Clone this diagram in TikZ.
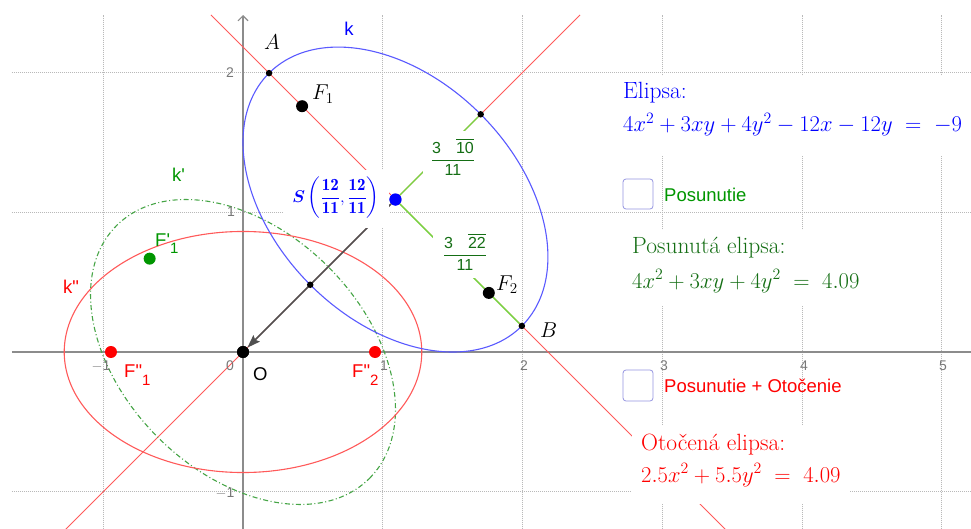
\RequirePackage{fix-cm}
\documentclass[tikz,border=0pt]{standalone}
\usepackage{amsmath}
\usepackage{fontspec}
\setsansfont{Liberation Sans}
\usetikzlibrary{arrows.meta}
\definecolor{gridc}{RGB}{185,185,185}
\definecolor{axisc}{RGB}{140,140,140}
\definecolor{ellc}{RGB}{90,90,255}
\definecolor{txtblue}{RGB}{0,0,255}
\definecolor{redl}{RGB}{255,90,90}
\definecolor{txtred}{RGB}{255,0,0}
\definecolor{lgreen}{RGB}{115,215,65}
\definecolor{dgreen}{RGB}{70,165,70}
\definecolor{txtgreen}{RGB}{0,150,0}
\definecolor{txtdgreen}{RGB}{20,110,20}
\definecolor{vecc}{RGB}{80,80,80}
\definecolor{boxc}{RGB}{150,150,225}
\definecolor{tickc}{RGB}{120,120,120}
\begin{document}
\begin{tikzpicture}[x=1pt,y=-1pt,
  gridline/.style={gridc, line width=0.8pt, dash pattern=on 1pt off 1pt},
  axisline/.style={axisc, line width=1.1pt},
  redline/.style={redl, line width=0.9pt},
  ellipseline/.style={line width=1.1pt},
  semiaxis/.style={lgreen, line width=1.3pt},
  smallpt/.style={circle, fill=black, inner sep=0pt, minimum size=6.5pt},
  bigpt/.style={circle, inner sep=0pt, minimum size=12pt},
  ptlab/.style={inner sep=0pt, font=\fontsize{21.5}{26}\selectfont},
  paneltext/.style={inner sep=0pt, font=\fontsize{23.5}{28}\selectfont},
  paneleq/.style={inner sep=0pt, font=\fontsize{22.6}{28}\selectfont},
  sanslab/.style={inner sep=0pt, font=\sffamily\fontsize{18.5}{22}\selectfont},
  fraclab/.style={inner sep=0pt, text=txtdgreen, font=\sffamily\fontsize{16}{19}\selectfont},
  ticklab/.style={inner sep=0pt, text=tickc, font=\sffamily\fontsize{14}{16}\selectfont},
  checkbox/.style={draw=boxc, line width=0.8pt, rounded corners=3pt, fill=white}]
\useasboundingbox (0,0) rectangle (971,529);
\fill[white] (0,0) rectangle (971,529);
\begin{scope}[shift={(243,352)},x=139.75pt,y=139.75pt]
  % grid
  \foreach \i in {-1,1,2,3,4,5} \draw[gridline] (\i,-1.27) -- (\i,2.4114);
  \foreach \j in {-1,1,2} \draw[gridline] (-1.653,\j) -- (5.21,\j);
  % axes
  \draw[axisline] (-1.653,0) -- (5.21,0);
  \draw[axisline, -{Straight Barb[length=5pt,width=10pt]}] (0,-1.27) -- (0,2.4114);
  % key points
  \coordinate (O) at (0,0);
  \coordinate (S) at (1.090909,1.090909);
  \coordinate (A) at (0.186375,1.995443);
  \coordinate (B) at (1.995443,0.186375);
  \coordinate (V1) at (1.700745,1.700745);
  \coordinate (V2) at (0.481073,0.481073);
  \coordinate (F1) at (0.422866,1.758952);
  \coordinate (F2) at (1.758952,0.422866);
  \coordinate (Fp1) at (-0.668043,0.668043);
  \coordinate (Fpp1) at (-0.944755,0);
  \coordinate (Fpp2) at (0.944755,0);
  \coordinate (La) at (-1.27,-1.27);
  \coordinate (Lb) at (2.4114,2.4114);
  \coordinate (Ma) at (-0.2296,2.4114);
  \coordinate (Mb) at (3.4533,-1.2715);
  % red axis lines
  \draw[redline] (La) -- (Lb);
  \draw[redline] (Ma) -- (Mb);
  % ellipses
  \draw[ellipseline, dgreen, dash pattern=on 5pt off 2.5pt on 1pt off 2.5pt, rotate=-45]
    (O) ellipse [x radius=1.279204, y radius=0.862439];
  \draw[ellipseline, redl] (O) ellipse [x radius=1.279204, y radius=0.862439];
  \draw[ellipseline, ellc, rotate around={-45:(S)}]
    (S) ellipse [x radius=1.279204, y radius=0.862439];
  % point nodes
  \node[bigpt, fill=txtblue] (Sn) at (S) {};
  \node[bigpt, fill=black] (On) at (O) {};
  \node[smallpt] (An) at (A) {};
  \node[smallpt] (Bn) at (B) {};
  \node[smallpt] (V1n) at (V1) {};
  % semi-axes
  \draw[semiaxis] (Sn) -- (V1n);
  \draw[semiaxis] (Sn) -- (Bn);
  % translation vector
  \draw[vecc, line width=1.6pt, -{Stealth[length=13pt,width=9pt,inset=2pt]}] (Sn) -- (On);
  \node[smallpt] (V2n) at (V2) {};
  \node[bigpt, fill=black] (F1n) at (F1) {};
  \node[bigpt, fill=black] (F2n) at (F2) {};
  \node[bigpt, fill=txtgreen] (Fp1n) at (Fp1) {};
  \node[bigpt, fill=txtred] (Fpp1n) at (Fpp1) {};
  \node[bigpt, fill=txtred] (Fpp2n) at (Fpp2) {};
  \node[bigpt, fill=black] (On2) at (O) {};
  \node[bigpt, fill=txtblue] (Sn2) at (S) {};
\end{scope}
% tick labels
\node[ticklab, anchor=base] (tx-1) at (101,370) {$-$1};
\node[ticklab, anchor=base] (tx0) at (230,370) {0};
\node[ticklab, anchor=base] (tx1) at (384,370) {1};
\node[ticklab, anchor=base] (tx2) at (524,370) {2};
\node[ticklab, anchor=base] (tx3) at (664,370) {3};
\node[ticklab, anchor=base] (tx4) at (804,370) {4};
\node[ticklab, anchor=base] (tx5) at (943,370) {5};
\node[ticklab, anchor=base] (ty2) at (230,78) {2};
\node[ticklab, anchor=base] (ty1) at (231,217) {1};
\node[ticklab, anchor=base] (ty-1) at (225,497) {$-$1};
% white label backgrounds
\fill[white] (283,170) rectangle (389,228);
\fill[white] (423,131) rectangle (484,185);
\fill[white] (433,226) rectangle (497,278);
\fill[white] (614,76) rectangle (971,156);
\fill[white] (623,230) rectangle (867,306);
\fill[white] (632,425) rectangle (850,504);
% point labels
\node[sanslab, text=txtblue, anchor=base] (klab) at (349,36) {k};
\node[ptlab, anchor=base] (Alab) at (272,50) {$A$};
\node[ptlab, anchor=base west] (F1lab) at (312,100) {$F_1$};
\node[ptlab, anchor=base west] (F2lab) at (496,290) {$F_2$};
\node[ptlab, anchor=base west] (Blab) at (540,337) {$B$};
\node[sanslab, text=txtgreen, anchor=base west] (kplab) at (172,182) {k\textquotesingle};
\node[sanslab, text=txtgreen, anchor=base west] (Fp1lab) at (155,247) {F\textquotesingle\raisebox{-7pt}{\fontsize{15}{15}\selectfont 1}};
\node[sanslab, text=txtred, anchor=base west] (kpplab) at (63,293) {k\textquotedbl};
\node[sanslab, text=txtred, anchor=base west] (Fpp1lab) at (124,377) {F\textquotedbl\raisebox{-8pt}{\fontsize{15}{15}\selectfont 1}};
\node[sanslab, text=txtred, anchor=base west] (Fpp2lab) at (352,377) {F\textquotedbl\raisebox{-8pt}{\fontsize{15}{15}\selectfont 2}};
\node[sanslab, anchor=base west] (Olab) at (253,380) {O};
\node[inner sep=0pt, text=txtblue, font=\fontsize{17}{20}\selectfont] (Slab) at (336,198)
  {$\boldsymbol{S}\left(\dfrac{\mathbf{12}}{\mathbf{11}},\dfrac{\mathbf{12}}{\mathbf{11}}\right)$};
\node[fraclab] (fr1) at (453,157)
  {$\dfrac{\textsf{3}\hspace{15pt}\overline{\textsf{10}}}{\textsf{11}}$};
\node[fraclab] (fr2) at (465,252)
  {$\dfrac{\textsf{3}\hspace{15pt}\overline{\textsf{22}}}{\textsf{11}}$};
% text panel
\node[paneltext, text=txtblue, anchor=base west] (el1) at (623,99) {Elipsa:};
\node[paneleq, text=txtblue, anchor=base west] (el2) at (623,132) {$4x^2+3xy+4y^2-12x-12y\;=\;-9$};
\draw[checkbox] (623,179) rectangle (653,209);
\node[sanslab, text=txtgreen, anchor=base west] (cb1) at (664,202) {Posunutie};
\node[paneltext, text=txtdgreen, anchor=base west] (pe1) at (632,254) {Posunutá elipsa:};
\node[paneleq, text=txtdgreen, anchor=base west] (pe2) at (632,288) {$4x^2+3xy+4y^2\;=\;4.09$};
\draw[checkbox] (623,370) rectangle (653,401);
\node[sanslab, text=txtred, anchor=base west] (cb2) at (664,392) {Posunutie + Otočenie};
\node[paneltext, text=txtred, anchor=base west] (oe1) at (641,450) {Otočená elipsa:};
\node[paneleq, text=txtred, anchor=base west] (oe2) at (641,482) {$2.5x^2+5.5y^2\;=\;4.09$};
\end{tikzpicture}
\end{document}
